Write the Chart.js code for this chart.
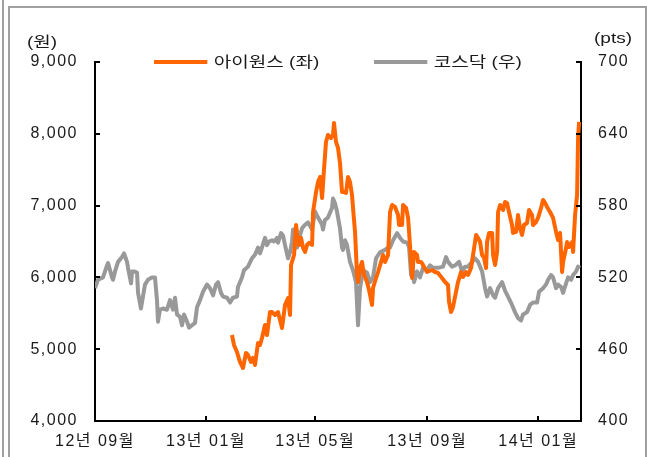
<!DOCTYPE html>
<html>
<head>
<meta charset="utf-8">
<script src="https://cdn.jsdelivr.net/npm/chart.js@4.4.1/dist/chart.umd.min.js"></script>
<style>
	body { margin: 0; background: #fff; }
	#wrap { position: relative; width: 647px; height: 457px; overflow: hidden; font-family: 'Liberation Sans', 'Noto Sans CJK KR', sans-serif; color: #1a1a1a; }
	#frame-outer { position: absolute; left: 2px; top: 0; width: 2px; height: 457px; background: #a0a0a0; }
	#frame { position: absolute; left: 8px; top: 6px; width: 635px; height: 470px; border: 2px solid #a0a0a0; }
	canvas { position: absolute; left: 0; top: 0; }
	.unit, .legend { position: absolute; font-size: 15px; line-height: 18px; white-space: nowrap; transform-origin: 0 50%; transform: scaleX(1.27); }
	.legend { top: 53px; }
	.legend i { display: inline-block; width: 42px; height: 4px; vertical-align: middle; margin-right: 5px; position: relative; top: -1px; }
</style>
</head>
<body>
<div id="wrap">
	<div id="frame-outer"></div>
	<div id="frame"></div>
	<canvas id="myChart" width="647" height="457"></canvas>
	<div class="unit" style="left:27px; top:33px;">(원)</div>
	<div class="unit" style="left:594px; top:29px;">(pts)</div>
	<div class="legend" style="left:154px;"><i style="background:#ff6600"></i>아이원스 (좌)</div>
	<div class="legend" style="left:374px;"><i style="background:#999999"></i>코스닥 (우)</div>
</div>
<script>
// x = days since 2012-09-01
let tickDays = [0, 122, 242, 365, 487]
let tickLabels = ["12년 09월", "13년 01월", "13년 05월", "13년 09월", "14년 01월"]

// 아이원스 (원)
let iwinsDays = [
	150.5, 152.7, 156, 159.3, 162.6, 165.9, 168.1, 171.4, 173.6, 175.8,
	179.1, 181.3, 183.5, 186.8, 189, 192.3, 194.5, 197.8, 201.1, 203.3,
	205.5, 208.8, 212.1, 214.3, 215.4, 218.7, 220.9, 222, 224.2, 226.4,
	228.6, 230.8, 233, 235.2, 238.5, 239.6, 242.9, 245.1, 247.3, 249.5,
	251.6, 253.8, 256, 259.3, 261.5, 262.6, 264.8, 267, 269.2, 271.4,
	273.6, 275.8, 278, 280.2, 282.4, 283.5, 285.7, 287.9, 289, 291.2,
	293.4, 295.6, 298.9, 301.1, 304.4, 305.5, 308.8, 311, 314.3, 316.5,
	318.7, 322, 324.2, 326.4, 329.7, 333, 334.1, 337.4, 338.5, 341.8,
	344, 345.1, 347.3, 348.4, 350.5, 353.8, 354.9, 358.2, 360.4, 364.8,
	370.3, 373.6, 376.9, 381.3, 384.6, 387.9, 389, 391.2, 393.4, 396.7,
	398.9, 402.2, 404.4, 407.7, 409.9, 413.2, 415.4, 418.7, 420.9, 423.1,
	425.3, 427.5, 429.7, 430.8, 433, 436.3, 437.4, 439.6, 441.8, 442.9,
	445.1, 448.4, 450.5, 452.7, 454.9, 458.2, 459.3, 462.6, 464.8, 467,
	469.2, 471.4, 474.7, 476.9, 480.2, 481.3, 484.6, 486.8, 490.1, 492.3,
	494.5, 496.7, 500, 503.3, 506.6, 508.8, 511, 513.2, 514.3, 517.6,
	518.7, 520.9, 524.2, 525.3, 527.5, 529.7, 530.8, 531.9
]
let iwinsPrice = [
	5198, 5059, 4961, 4822, 4738, 4947, 4919, 4822, 4878, 4780,
	5087, 5059, 5156, 5337, 5198, 5518, 5518, 5477, 5518, 5407,
	5295, 5616, 5713, 5477, 6173, 6312, 6730, 6619, 6452, 6549,
	6410, 6354, 6452, 6480, 6452, 6911, 7190, 7329, 7399, 7106,
	7496, 7886, 7984, 7942, 7984, 8151, 7886, 7803, 7594, 7190,
	7190, 7176, 7399, 7329, 7148, 6967, 6633, 6034, 5936, 6131,
	6215, 6034, 5936, 5825, 5616, 5853, 5992, 6075, 6215, 6312,
	6215, 6312, 6911, 7009, 6981, 6870, 6730, 6730, 7009, 6967,
	6828, 6633, 6215, 5992, 6354, 6312, 6215, 6215, 6173, 6075,
	6103, 6075, 6062, 5992, 5936, 5894, 5658, 5518, 5588, 5797,
	5936, 6075, 6006, 6075, 6034, 6131, 6312, 6591, 6549, 6493,
	6312, 6271, 6131, 6493, 6619, 6619, 6312, 6173, 6354, 6911,
	7009, 6939, 7051, 7037, 6911, 6730, 6619, 6633, 6870, 6688,
	6591, 6730, 6758, 6939, 6870, 6730, 6772, 6828, 6967, 7079,
	7037, 6981, 6911, 6828, 6633, 6521, 6619, 6075, 6215, 6410,
	6493, 6424, 6493, 6354, 6870, 7148, 7942, 8165
]

// 코스닥 (pts)
let kosdaqDays = [
	0, 3.3, 8.8, 13.2, 14.3, 18.7, 19.8, 22, 25.3, 29.7,
	31.9, 35.2, 36.3, 39.6, 40.7, 42.9, 46.2, 47.3, 50.5, 52.7,
	54.9, 58.2, 62.6, 65.9, 68.1, 69.2, 71.4, 74.7, 79.1, 82.4,
	85.7, 87.9, 90.1, 93.4, 95.6, 97.8, 101.1, 103.3, 106.6, 109.9,
	112.1, 115.4, 118.7, 123.1, 126.4, 129.7, 133, 135.2, 138.5, 140.7,
	145.1, 148.4, 151.6, 156, 157.1, 161.5, 163.7, 168.1, 172.5, 175.8,
	179.1, 181.3, 183.5, 186.8, 189, 191.2, 194.5, 196.7, 200, 201.1,
	204.4, 206.6, 208.8, 212.1, 214.3, 216.5, 217.6, 219.8, 222, 223.1,
	227.5, 230.8, 234.1, 238.5, 241.8, 245.1, 249.5, 250.5, 252.7, 256,
	260.4, 261.5, 263.7, 265.9, 269.2, 271.4, 272.5, 274.7, 276.9, 280.2,
	283.5, 286.8, 289, 291.2, 294.5, 296.7, 298.9, 302.2, 305.5, 308.8,
	313.2, 318.7, 322, 324.2, 327.5, 331.9, 335.2, 338.5, 342.9, 345.1,
	347.3, 348.4, 350.5, 353.8, 357.1, 360.4, 364.8, 368.1, 371.4, 376.9,
	382.4, 385.7, 387.9, 392.3, 395.6, 400, 403.3, 406.6, 409.9, 414.3,
	417.6, 420.9, 425.3, 428.6, 430.8, 434.1, 437.4, 439.6, 442.9, 447.3,
	450.5, 453.8, 458.2, 461.5, 464.8, 468.1, 470.3, 474.7, 478, 481.3,
	485.7, 487.9, 492.3, 495.6, 497.8, 501.1, 503.3, 506.6, 508.8, 512.1,
	514.3, 517.6, 519.8, 523.1, 525.3, 528.6, 530.8, 533
]
let kosdaqIndex = [
	511, 518, 520, 530, 532, 520, 518, 525, 533, 537,
	540, 533, 528, 515, 525, 525, 524, 507, 494, 504,
	514, 518, 520, 520, 501, 483, 493, 494, 493, 501,
	493, 503, 489, 487, 480, 489, 483, 478, 480, 482,
	495, 501, 508, 514, 511, 505, 514, 516, 507, 504,
	503, 499, 503, 504, 512, 520, 526, 529, 536, 539,
	545, 540, 545, 553, 547, 550, 551, 550, 553, 549,
	557, 555, 547, 536, 541, 550, 560, 551, 545, 549,
	561, 564, 566, 560, 575, 570, 564, 560, 568, 570,
	578, 586, 582, 575, 561, 545, 543, 551, 547, 533,
	526, 516, 480, 511, 526, 525, 524, 516, 520, 536,
	541, 543, 545, 545, 551, 557, 553, 550, 549, 545,
	522, 533, 516, 525, 520, 528, 526, 530, 528, 528,
	529, 537, 533, 529, 530, 533, 525, 529, 529, 533,
	536, 533, 525, 511, 504, 511, 505, 503, 511, 516,
	509, 504, 497, 491, 486, 484, 489, 491, 497, 499,
	499, 508, 511, 514, 518, 522, 520, 511, 514, 512,
	507, 515, 520, 518, 522, 525, 529, 528
]

let iwinsColor = "#ff6600"
let kosdaqColor = "#999999"
let fontFamily = "'Liberation Sans', 'Noto Sans CJK KR', sans-serif"

function toPoints(days, values) {
	return days.map((d, i) => ({x: d, y: values[i]}))
}

// the original text is drawn a bit wide, spread the letters out
const wideText = {
	id: "wideText",
	beforeDraw(chart) {
		chart.ctx.letterSpacing = "1.5px"
	}
}

// small tick marks pointing into the plot
const innerTicks = {
	id: "innerTicks",
	afterDraw(chart) {
		let {ctx, chartArea, scales} = chart
		ctx.save()
		ctx.strokeStyle = "#000"
		ctx.lineWidth = 2
		ctx.beginPath()
		scales.y.ticks.forEach(t => {
			let y = Math.round(scales.y.getPixelForValue(t.value))
			ctx.moveTo(chartArea.left, y)
			ctx.lineTo(chartArea.left + 5, y)
		})
		scales.y1.ticks.forEach(t => {
			let y = Math.round(scales.y1.getPixelForValue(t.value))
			ctx.moveTo(chartArea.right, y)
			ctx.lineTo(chartArea.right - 5, y)
		})
		scales.x.ticks.forEach(t => {
			let x = Math.round(scales.x.getPixelForValue(t.value))
			ctx.moveTo(x, chartArea.bottom)
			ctx.lineTo(x, chartArea.bottom - 5)
		})
		ctx.stroke()
		ctx.restore()
	}
}

let tickFont = {size: 16, family: fontFamily}

let config = {
	type: "line",
	data: {
		datasets: [
			{
				label: "아이원스 (좌)",
				data: toPoints(iwinsDays, iwinsPrice),
				borderColor: iwinsColor,
				backgroundColor: iwinsColor,
				borderWidth: 4,
				yAxisID: "y",
			},
			{
				label: "코스닥 (우)",
				data: toPoints(kosdaqDays, kosdaqIndex),
				borderColor: kosdaqColor,
				backgroundColor: kosdaqColor,
				borderWidth: 4,
				yAxisID: "y1",
			},
		],
	},
	options: {
		responsive: false,
		animation: false,
		layout: {padding: {top: 62, left: 0, right: 0, bottom: 0}},
		elements: {
			point: {radius: 0},
			line: {tension: 0, borderJoinStyle: "round"},
		},
		plugins: {
			legend: {display: false},
			tooltip: {enabled: false},
		},
		scales: {
			x: {
				type: "linear",
				min: 0,
				max: 534,
				afterBuildTicks: axis => { axis.ticks = tickDays.map(v => ({value: v})) },
				afterFit: axis => { axis.height = 36 },
				grid: {display: true, drawOnChartArea: false, drawTicks: false},
				border: {display: true, color: "#000", width: 2},
				ticks: {
					font: tickFont,
					color: "#1a1a1a",
					padding: 11,
					maxRotation: 0,
					autoSkip: false,
					callback: v => tickLabels[tickDays.indexOf(v)],
				},
			},
			y: {
				position: "left",
				min: 4000,
				max: 9000,
				afterFit: axis => { axis.width = 95 },
				grid: {display: true, drawOnChartArea: false, drawTicks: false},
				border: {display: true, color: "#000", width: 2},
				ticks: {
					stepSize: 1000,
					font: tickFont,
					color: "#1a1a1a",
					padding: 17,
					callback: v => v.toLocaleString("en-US"),
				},
			},
			y1: {
				position: "right",
				min: 400,
				max: 700,
				afterFit: axis => { axis.width = 66 },
				grid: {display: true, drawOnChartArea: false, drawTicks: false},
				border: {display: true, color: "#000", width: 2},
				ticks: {
					stepSize: 60,
					font: tickFont,
					color: "#1a1a1a",
					padding: 17,
				},
			},
		},
	},
	plugins: [wideText, innerTicks],
}

let chart = new Chart(document.getElementById("myChart").getContext("2d"), config)
</script>
</body>
</html>
